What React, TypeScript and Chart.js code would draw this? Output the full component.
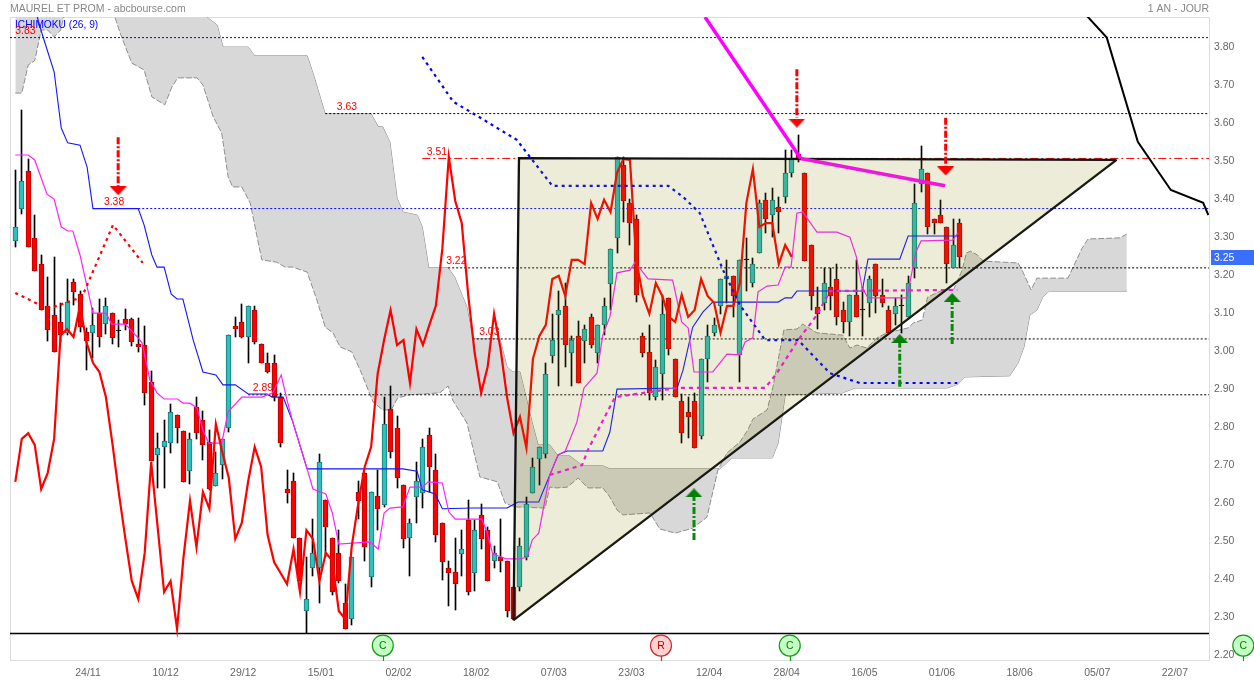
import React, { useEffect, useRef } from "react";
import { Chart, registerables } from "chart.js";

Chart.register(...registerables);

// ---- Daily candles ----
const opens = [3.295,3.379,3.479,3.303,3.234,3.124,3.100,3.082,3.053,3.187,3.155,3.055,3.053,3.105,3.076,3.105,3.058,3.090,3.090,3.024,
3.021,2.924,2.732,2.753,2.763,2.837,2.795,2.690,2.858,2.824,2.766,2.650,2.705,2.803,3.071,3.082,3.042,3.113,3.024,2.974,
2.974,2.884,2.642,2.663,2.513,2.321,2.434,2.434,2.613,2.513,2.474,2.342,2.300,2.634,2.684,2.411,2.624,2.600,2.853,2.803,
2.653,2.513,2.621,2.632,2.784,2.692,2.553,2.434,2.424,2.471,2.561,2.421,2.574,2.534,2.453,2.463,2.453,2.384,2.384,2.463,
2.632,2.721,2.734,2.992,3.100,3.124,3.000,3.045,3.032,3.095,3.000,3.074,3.182,3.303,3.495,3.395,3.353,3.045,3.003,2.884,
2.945,3.145,2.985,2.874,2.845,2.874,2.782,2.984,3.053,3.124,3.195,3.203,2.995,3.245,3.184,3.263,3.403,3.363,3.384,3.411,
3.474,3.524,3.474,3.284,3.121,3.132,3.174,3.195,3.113,3.082,3.153,3.113,3.132,3.234,3.153,3.113,3.103,3.124,3.095,3.224,
3.445,3.474,3.353,3.363,3.332,3.224,3.342];
const closes = [3.332,3.453,3.279,3.216,3.113,3.061,3.003,3.047,3.134,3.161,3.068,3.032,3.074,3.042,3.124,3.040,3.058,3.076,3.029,3.016,
2.895,2.716,2.750,2.768,2.845,2.803,2.661,2.774,2.789,2.758,2.642,2.684,2.774,3.047,3.063,3.042,3.124,3.029,2.974,2.950,
2.884,2.763,2.632,2.513,2.400,2.353,2.474,2.713,2.542,2.371,2.400,2.274,2.463,2.611,2.489,2.634,2.590,2.813,2.739,2.671,
2.511,2.553,2.663,2.753,2.700,2.521,2.450,2.421,2.392,2.484,2.371,2.534,2.511,2.400,2.474,2.453,2.321,2.300,2.492,2.603,
2.700,2.753,2.945,3.034,3.113,3.021,3.034,2.921,3.063,3.021,3.074,3.124,3.274,3.516,3.400,3.342,3.153,3.000,2.895,2.963,
3.103,3.011,2.884,2.789,2.832,2.750,2.984,3.045,3.074,3.195,3.203,3.150,3.245,3.245,3.234,3.395,3.353,3.403,3.371,3.474,
3.511,3.508,3.242,3.150,3.103,3.184,3.150,3.095,3.082,3.153,3.095,3.113,3.195,3.150,3.132,3.053,3.124,3.124,3.184,3.395,
3.484,3.332,3.342,3.342,3.234,3.284,3.253];
const highs = [3.482,3.640,3.511,3.363,3.258,3.200,3.253,3.132,3.195,3.195,3.163,3.066,3.118,3.142,3.145,3.105,3.087,3.116,3.092,3.092,
3.071,2.953,2.789,2.824,2.866,2.837,2.795,2.789,2.884,2.847,2.797,2.739,2.774,3.047,3.095,3.129,3.124,3.124,3.024,3.000,
2.995,2.895,2.692,2.684,2.513,2.463,2.563,2.734,2.613,2.513,2.534,2.392,2.463,2.663,2.684,2.634,2.692,2.884,2.913,2.834,
2.653,2.563,2.713,2.774,2.803,2.734,2.553,2.453,2.513,2.534,2.613,2.561,2.603,2.542,2.492,2.563,2.453,2.384,2.513,2.621,
2.724,2.753,2.974,3.103,3.163,3.184,3.045,3.084,3.074,3.103,3.074,3.145,3.274,3.516,3.516,3.405,3.363,3.053,3.074,2.982,
3.153,3.145,2.985,2.892,2.884,2.895,2.984,3.074,3.092,3.195,3.245,3.203,3.245,3.303,3.250,3.403,3.421,3.434,3.411,3.534,
3.534,3.574,3.474,3.284,3.174,3.224,3.224,3.234,3.134,3.153,3.245,3.174,3.203,3.234,3.195,3.124,3.145,3.153,3.203,3.445,
3.545,3.474,3.353,3.403,3.332,3.353,3.353];
const lows = [3.279,3.366,3.279,3.216,3.113,3.032,3.003,3.029,3.047,3.126,3.055,2.955,2.987,3.016,3.050,3.024,3.016,3.061,3.019,3.003,
2.863,2.716,2.645,2.645,2.737,2.763,2.661,2.655,2.774,2.718,2.640,2.650,2.668,2.792,3.042,3.040,2.974,3.024,2.974,2.947,
2.874,2.753,2.605,2.513,2.400,2.263,2.413,2.342,2.463,2.363,2.395,2.274,2.284,2.563,2.453,2.384,2.534,2.595,2.724,2.645,
2.487,2.413,2.553,2.592,2.634,2.503,2.403,2.334,2.324,2.413,2.363,2.374,2.484,2.400,2.434,2.424,2.305,2.297,2.374,2.455,
2.632,2.653,2.724,2.974,2.913,2.963,2.913,2.921,2.974,3.013,2.974,3.047,3.113,3.263,3.345,3.284,3.134,2.990,2.876,2.876,
2.876,2.995,2.884,2.763,2.776,2.750,2.774,2.924,3.045,3.103,3.132,3.095,2.924,3.163,3.174,3.263,3.316,3.305,3.316,3.395,
3.463,3.503,3.242,3.113,3.063,3.113,3.113,3.074,3.053,3.045,3.095,3.045,3.095,3.105,3.121,3.053,3.074,3.053,3.095,3.197,
3.424,3.313,3.313,3.342,3.184,3.224,3.224];

// Lagging span: the closes, read 26 sessions earlier
const chikou = closes.slice(26);

// ---- Ichimoku lines, as [session, price] vertices ----
const kijun = [[2.5,3.95],[3.4,3.884],[4.1,3.842],[6,3.74],[7.1,3.592],[8.1,3.553],[10,3.547],[11.1,3.489],[12,3.38],[19,3.38],[19.9,3.337],[21.1,3.258],[21.9,3.226],[23,3.226],[24.1,3.155],[25,3.142],[25.9,3.142],[27.5,3.034],[29,2.95],[31,2.942],[32.1,2.916],[34,2.916],[36,2.892],[38.9,2.892],[39.7,2.884],[41.4,2.884],[42.9,2.818],[45.1,2.695],[59.9,2.695],[62.1,2.689],[62.9,2.64],[64.9,2.629],[66,2.59],[70.7,2.592],[76,2.592],[77.7,2.608],[80.9,2.608],[83.9,2.732],[85.3,2.742],[90.8,2.742],[91.9,2.792],[93,2.905],[102.3,2.908],[103.2,2.955],[104.7,3.068],[106.3,3.108],[107.8,3.134],[117.9,3.134],[119,3.145],[120,3.145],[120.8,3.163],[130.9,3.163],[131.8,3.247],[136.7,3.247],[138,3.308],[146,3.308]];
const tenkan = [[0,3.521],[2,3.521],[3,3.508],[4.9,3.418],[6,3.405],[7.1,3.332],[8.1,3.321],[8.9,3.321],[10,3.258],[11.1,3.174],[12,3.105],[14,3.105],[14.9,3.076],[17,3.076],[19,3.04],[19.6,3.026],[20.8,2.929],[21.9,2.895],[23,2.879],[25.1,2.879],[25.9,2.868],[27,2.868],[28.1,2.855],[29,2.797],[29.9,2.763],[31.9,2.763],[32.9,2.845],[35,2.884],[38.1,2.884],[39.8,2.895],[41.1,2.942],[42,2.876],[42.9,2.818],[45.1,2.695],[46,2.642],[48,2.629],[49,2.579],[50,2.497],[54.8,2.503],[56.1,2.484],[57,2.579],[57.9,2.592],[59.9,2.595],[61,2.647],[63,2.647],[63.8,2.661],[66,2.658],[67,2.582],[68,2.563],[72.1,2.563],[72.9,2.529],[73.8,2.471],[76,2.458],[78,2.458],[79.1,2.463],[79.9,2.508],[80.9,2.526],[82.6,2.679],[83.9,2.732],[85,2.742],[86.8,2.818],[87.9,2.908],[89.9,2.947],[90.8,3.047],[91.9,3.095],[93,3.211],[95,3.218],[95.8,3.239],[97.8,3.195],[101.6,3.192],[103,3.082],[104,3.066],[104.9,2.95],[107.8,2.95],[110,2.997],[112,2.995],[112.8,3.029],[114,3.04],[114.8,3.161],[116.2,3.176],[117.9,3.179],[119,3.226],[119.9,3.226],[120.8,3.368],[121.7,3.371],[123.9,3.318],[127,3.318],[129,3.305],[130,3.253],[130.9,3.171],[131.8,3.145],[137.8,3.145],[139.2,3.266],[140,3.295],[144.9,3.297],[145.7,3.316]];
const senkouA = [[0,3.684],[1,3.684],[2,3.758],[3,3.769],[4,3.85],[5,3.85],[6,3.832],[7,3.85],[7.5,3.884],[11.5,4.034],[15,4.034],[15.4,3.884],[16.2,3.842],[18,3.763],[19.9,3.745],[21.1,3.674],[23.1,3.653],[24.2,3.7],[25.1,3.724],[28.1,3.724],[29,3.705],[30.6,3.621],[31.9,3.579],[32.9,3.463],[33.6,3.437],[35,3.437],[36.3,3.395],[38.1,3.245],[40.4,3.239],[41.7,3.226],[42.9,3.226],[45.1,3.213],[46.6,3.14],[47.9,3.068],[49.1,3.053],[50.2,3.016],[52,3.003],[53.3,2.955],[55.3,2.871],[56.8,2.85],[58.1,2.85],[59.1,2.882],[61,2.89],[65.6,2.895],[66.9,2.913],[67.6,2.876],[69.8,2.816],[71.8,2.674],[74.5,2.661],[75.7,2.605],[77.2,2.595],[81.9,2.592],[82.6,2.647],[83.7,2.645],[85.3,2.647],[87,2.671],[88.5,2.645],[90.8,2.645],[91.9,2.621],[93,2.587],[93.9,2.574],[98.1,2.579],[99.6,2.537],[102,2.526],[104.7,2.539],[106.9,2.568],[108.6,2.692],[110,2.737],[112,2.766],[113.2,2.797],[114,2.826],[116.2,2.85],[117.1,2.911],[118.8,3.061],[120.8,3.063],[121.7,3.076],[123.9,3.053],[127.9,3.047],[129,3.013],[130.1,3.021],[131.6,3.013],[133.2,3.04],[134.7,3.053],[138,3.066],[138.8,3.079],[140.2,3.087],[141,3.147],[143.4,3.166],[145,3.166],[146.3,3.216],[147,3.263],[147.6,3.268],[148.7,3.258],[149.6,3.242],[152.7,3.239],[155,3.237],[155.8,3.211],[157,3.166],[157.9,3.197],[162.7,3.197],[163.8,3.237],[164.9,3.276],[165.8,3.3],[170.7,3.303],[171.8,3.313]];
const senkouB = [[0,4.3],[28.5,4.008],[29.6,3.884],[31.2,3.863],[32.1,3.805],[36,3.805],[37,3.782],[45.1,3.782],[46,3.737],[47.9,3.629],[55,3.629],[56.1,3.595],[56.8,3.595],[57.9,3.555],[59,3.408],[59.9,3.371],[62.1,3.363],[62.9,3.332],[63.9,3.224],[66.9,3.224],[67.9,3.2],[69.8,3.121],[70.7,3.037],[74.9,3.037],[76,2.963],[76.9,2.95],[78,2.95],[79.9,2.816],[80.8,2.758],[82.6,2.758],[83.9,2.729],[85.7,2.729],[87.7,2.703],[90.8,2.703],[91.9,2.695],[108.9,2.695],[110.8,2.724],[117,2.724],[117.9,2.763],[119,2.89],[127.8,2.895],[129.8,2.908],[144,2.908],[145.7,2.918],[146.8,2.937],[153.7,2.94],[155,2.974],[155.9,3.016],[156.8,3.1],[157.9,3.113],[158.8,3.147],[159.8,3.163],[171.8,3.163]];

// ---- Hand-drawn analysis on the chart ----
const dashedMagenta = [[82.6,2.679],[87.6,2.705],[88.5,2.745],[91.5,2.845],[92.7,2.884],[102.3,2.908],[115.9,2.908],[117.7,2.947],[121,3.034],[123.9,3.1],[125.9,3.163],[145.6,3.166]];
const dashedBlue = [[62.9,3.779],[67.7,3.661],[71.4,3.624],[77.5,3.561],[83,3.44],[100.9,3.44],[103.2,3.411],[105.8,3.368],[109.4,3.218],[112,3.126],[115.9,3.034],[121,3.034],[125.9,2.947],[130.5,2.921],[145.6,2.921]];
const dashedRed = [[0,3.158],[3.5,3.129],[5.4,3.118],[10.3,3.147],[15.1,3.337],[19.7,3.237]];
const blackCurve = [[163,3.95],[165.8,3.884],[168.7,3.83],[173.5,3.556],[178.6,3.429],[183.6,3.395],[184.4,3.363]];
const magentaDown = [[106.6,3.884],[121.4,3.512]];
const magentaFlat = [[121.4,3.512],[143.7,3.44]];
const triangleUpper = [[77,2.297],[77.85,3.513],[170.2,3.508]];
const triangleLower = [[77,2.297],[170.2,3.508]];

const redArrows = [[15.9,3.568,3.437],[120.8,3.747,3.619],[143.8,3.619,3.49]];
const redHeads = [[15.9,3.427],[120.8,3.605],[143.8,3.479]];
const greenArrows = [[104.9,2.508,2.621],[136.7,2.911,3.026],[144.8,3.024,3.134]];
const greenHeads = [[104.9,2.632],[136.7,3.038],[144.8,3.146]];

const blackDotted = [[47.9,3.63],[66.9,3.224],[70.7,3.037],[36,2.89]];
const blueDotted = [[-0.82,3.83],[19,3.38]];
const redLevel = [62.9,3.512];
const supportLevel = 2.262;

const levelLabels = [
  ["3.83",0,3.83],["3.63",49.7,3.63],["3.51",63.6,3.512],["3.38",13.7,3.38],
  ["3.22",66.6,3.224],["3.03",71.7,3.037],["2.89",36.7,2.89],
];
const signals = [["C",56.8],["R",99.8],["C",119.7],["C",189.8]];
const signalLevel = 2.23;

const dateLabels = ["24/11","10/12","29/12","15/01","02/02","18/02","07/03","23/03","12/04","28/04","16/05","01/06","18/06","05/07","22/07"];
const dateTicks = [11,23,35,47,59,71,83,95,107,119,131,143,155,167,179];
const priceTicks = [2.2,2.3,2.4,2.5,2.6,2.7,2.8,2.9,3.0,3.1,3.2,3.3,3.4,3.5,3.6,3.7,3.8];
const lastPrice = 3.25;

const FONT = '"Liberation Sans", Arial, sans-serif';
const X_MIN = -0.82, X_MAX = 184.5, Y_MIN = 2.1921, Y_MAX = 3.8842;

const pts = (a: number[][]) => a.map(([x, y]) => ({ x, y }));
const line = (a: number[][], color: string, width: number, order: number, extra: any = {}) => ({
  type: "line", data: pts(a), borderColor: color, borderWidth: width, order,
  pointRadius: 0, tension: 0, fill: false, ...extra,
});

function headImage(color: string, up: boolean) {
  const c = document.createElement("canvas");
  c.width = 17; c.height = 9;
  const g = c.getContext("2d")!;
  g.fillStyle = color;
  g.beginPath();
  if (up) { g.moveTo(8.5, 0); g.lineTo(17, 9); g.lineTo(0, 9); }
  else { g.moveTo(0, 0); g.lineTo(17, 0); g.lineTo(8.5, 9); }
  g.closePath(); g.fill();
  return c;
}

const candlePixels = {
  id: "candlePixels",
  afterDatasetsUpdate(chart: any) {
    chart.getSortedVisibleDatasetMetas().forEach((m: any) => {
      if (m.type !== "bar") return;
      m.data.forEach((el: any) => {
        el.x = Math.floor(el.x) + 0.5;
        el.y = Math.round(el.y);
        el.base = Math.round(el.base);
      });
    });
  },
};

const frame = {
  id: "frame",
  beforeDraw(chart: any) {
    const { ctx } = chart;
    ctx.save();
    ctx.fillStyle = "#fff";
    ctx.fillRect(0, 0, chart.width, chart.height);
    ctx.strokeStyle = "#ddd";
    ctx.lineWidth = 1;
    ctx.strokeRect(10.5, 17.5, 1199, 643);
    ctx.restore();
  },
  afterDraw(chart: any) {
    const { ctx, scales: { x, y } } = chart;
    ctx.save();
    ctx.textBaseline = "middle";
    ctx.textAlign = "left";
    ctx.font = `10.5px ${FONT}`;
    ctx.fillStyle = "#888";
    ctx.fillText("MAUREL ET PROM - abcbourse.com", 10, 9);
    ctx.textAlign = "right";
    ctx.fillText("1 AN - JOUR", 1209, 9);
    ctx.textAlign = "left";
    ctx.font = `10.2px ${FONT}`;
    ctx.fillStyle = "#0000ff";
    ctx.fillText("ICHIMOKU (26, 9)", 15, 25);

    ctx.font = `10.4px ${FONT}`;
    ctx.fillStyle = "#ff0000";
    levelLabels.forEach(([t, i, v]: any) => {
      ctx.fillText(t, x.getPixelForValue(i), y.getPixelForValue(v) - 6.5);
    });

    // last price tag
    const py = y.getPixelForValue(lastPrice);
    ctx.fillStyle = "#3a6ffb";
    ctx.fillRect(1211, Math.round(py) - 8, 43, 15);
    ctx.fillStyle = "#fff";
    ctx.font = `10.5px ${FONT}`;
    ctx.fillText(lastPrice.toFixed(2), 1214, Math.round(py));

    // signal bubbles
    signals.forEach(([t, i]: any) => {
      const px = x.getPixelForValue(i);
      const cy = y.getPixelForValue(signalLevel);
      const green = t === "C";
      ctx.strokeStyle = green ? "#159a15" : "#d02a2a";
      ctx.lineWidth = 1.2;
      ctx.beginPath();
      ctx.moveTo(Math.round(px) + 0.5, cy + 10);
      ctx.lineTo(Math.round(px) + 0.5, 661);
      ctx.stroke();
      ctx.fillStyle = green ? "#c4ffc4" : "#ffd2d2";
      ctx.beginPath();
      ctx.arc(px, cy, 10.5, 0, Math.PI * 2);
      ctx.fill();
      ctx.stroke();
      ctx.fillStyle = green ? "#008000" : "#c00000";
      ctx.font = `10.5px ${FONT}`;
      ctx.textAlign = "center";
      ctx.fillText(t, px, cy + 0.5);
      ctx.textAlign = "left";
    });
    ctx.restore();
  },
};

export default function App() {
  const ref = useRef<HTMLCanvasElement>(null);
  useEffect(() => {
    const idx = opens.map((_, i) => i);
    const bodyFill = idx.map((i) => (closes[i] > opens[i] ? "#2dc0bc" : closes[i] < opens[i] ? "#ff0000" : "#000"));
    const bodyEdge = idx.map((i) => (closes[i] > opens[i] ? "#167a76" : closes[i] < opens[i] ? "#b40000" : "#000"));

    const datasets: any[] = [
      // cloud
      line(senkouA, "#8f8f8f", 1, 100, { fill: "+1", backgroundColor: "#d8d8d8", borderDash: [6, 2] }),
      line(senkouB, "#858585", 1, 100),
      // levels
      ...blackDotted.map(([s, v]) => line([[s, v], [X_MAX, v]], "#000", 1, 90, { borderDash: [2, 2] })),
      ...blueDotted.map(([s, v]) => line([[s, v], [X_MAX, v]], "#0000ff", 1, 90, { borderDash: [2, 2] })),
      line([[redLevel[0], redLevel[1]], [X_MAX, redLevel[1]]], "#ff0000", 1, 90, { borderDash: [8, 3, 2, 3] }),
      line([[X_MIN, supportLevel], [X_MAX, supportLevel]], "#000", 1.5, 90),
      // candles
      {
        type: "bar", order: 81, grouped: false, maxBarThickness: 1, categoryPercentage: 1, barPercentage: 1,
        backgroundColor: "#000", borderWidth: 0,
        data: idx.map((i) => ({ x: i, y: [lows[i], highs[i]] })),
      },
      {
        type: "bar", order: 80, grouped: false, maxBarThickness: 5, categoryPercentage: 1, barPercentage: 1, minBarLength: 1,
        backgroundColor: bodyFill, borderColor: bodyEdge, borderWidth: 1, borderSkipped: false,
        data: idx.map((i) => ({ x: i, y: [opens[i], closes[i]] })),
      },
      // indicator lines
      line(kijun, "#1414ff", 1.1, 60),
      line(tenkan, "#ff20ff", 1.2, 59),
      line(chikou.map((c, i) => [i, c]), "#ff0000", 2.2, 58),
      line(dashedRed, "#ff0000", 2.2, 57, { borderDash: [3, 4] }),
      line(dashedBlue, "#0000ff", 2.2, 57, { borderDash: [3, 4] }),
      line(dashedMagenta, "#ff10e8", 2.2, 57, { borderDash: [4, 4] }),
      // triangle (olive veil over everything drawn before it)
      line(triangleUpper, "#111", 2.3, 30, { fill: "+1", backgroundColor: "rgba(128,128,0,0.15)" }),
      line(triangleLower, "#111", 2.3, 30),
      line(blackCurve, "#000", 2, 20),
      line(magentaDown, "#ff00ff", 3.5, 20),
      line(magentaFlat, "#f018d8", 3.5, 20),
      ...redArrows.map(([i, a, b]) => line([[i, a], [i, b]], "#ff0000", 3, 10, { borderDash: [7, 2, 2, 2] })),
      ...greenArrows.map(([i, a, b]) => line([[i, a], [i, b]], "#0a8a0a", 3, 10, { borderDash: [7, 2, 2, 2] })),
      { type: "line", order: 9, showLine: false, data: pts(redHeads), pointRadius: 9, pointStyle: headImage("#ff0000", false) },
      { type: "line", order: 9, showLine: false, data: pts(greenHeads), pointRadius: 9, pointStyle: headImage("#008000", true) },
    ];

    const chart = new Chart(ref.current!, {
      type: "line",
      data: { datasets },
      plugins: [candlePixels, frame],
      options: {
        responsive: false,
        animation: false,
        devicePixelRatio: 1,
        parsing: undefined,
        layout: { padding: { left: 10, top: 17, right: 0, bottom: 0 } },
        plugins: { legend: { display: false }, tooltip: { enabled: false }, title: { display: false } },
        events: [],
        scales: {
          x: {
            type: "linear", min: X_MIN, max: X_MAX, offset: false,
            grid: { display: false, drawTicks: false }, border: { display: false },
            afterBuildTicks: (a: any) => { a.ticks = dateTicks.map((value) => ({ value })); },
            afterFit: (a: any) => { a.height = 21; },
            ticks: {
              autoSkip: false, maxRotation: 0, padding: 6.5, labelOffset: 1.5,
              color: "#666", font: { family: FONT, size: 10.5 },
              callback: (v: any) => dateLabels[dateTicks.indexOf(v)] ?? "",
            },
          },
          y: {
            type: "linear", position: "right", min: Y_MIN, max: Y_MAX, beginAtZero: false,
            grid: { display: false, drawTicks: false }, border: { display: false },
            afterBuildTicks: (a: any) => { a.ticks = priceTicks.map((value) => ({ value })); },
            afterFit: (a: any) => { a.width = 45; },
            ticks: {
              autoSkip: false, padding: 5, labelOffset: -1.5,
              color: "#666", font: { family: FONT, size: 10.5 },
              callback: (v: any) => Number(v).toFixed(2),
            },
          },
        },
      },
    } as any);
    return () => chart.destroy();
  }, []);
  return (
    <canvas
      ref={ref}
      width={1254}
      height={681}
      style={{ position: "fixed", left: 0, top: 0, width: 1254, height: 681, display: "block" }}
    />
  );
}
